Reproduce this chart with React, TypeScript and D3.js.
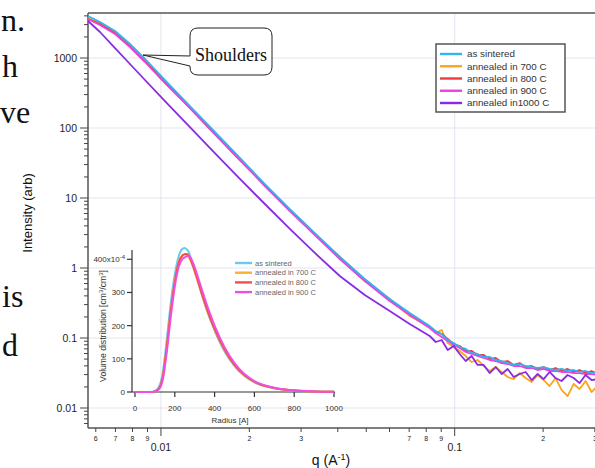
import * as d3 from "d3";

// main SAXS curves: q grid (A^-1), low-q part then the noisy high-q part
const qLow = [0.005645, 0.006202, 0.006977, 0.007843, 0.008824, 0.01032, 0.01255, 0.01526, 0.01857, 0.02258, 0.02747, 0.03341, 0.04063, 0.04942, 0.0601, 0.0703, 0.08222];
const qHigh = [0.08617, 0.09032, 0.09467, 0.09922, 0.104, 0.109, 0.1142, 0.1197, 0.1255, 0.1315, 0.1379, 0.1445, 0.1515, 0.1588, 0.1664, 0.1744, 0.1828, 0.1916, 0.2008, 0.2104, 0.2205, 0.2311, 0.2423, 0.254, 0.2662, 0.279, 0.2924, 0.3064];

const sinteredLow = [3981, 3268, 2431, 1585, 968, 485, 206, 87.7, 37.3, 15.85, 6.96, 3.16, 1.44, 0.697, 0.361, 0.228, 0.148];
const sinteredHigh = [0.1259, 0.114, 0.0936, 0.0848, 0.0744, 0.0697, 0.0611, 0.0591, 0.0535, 0.0535, 0.0485, 0.0469, 0.0439, 0.0412, 0.0425, 0.0398, 0.0385, 0.0373, 0.0385, 0.0361, 0.0349, 0.0361, 0.0338, 0.0349, 0.0327, 0.0338, 0.0316, 0.0327];

const a700Low = [3728, 3162, 2352, 1534, 936, 469, 199.5, 84.8, 36.1, 15.34, 6.74, 3.06, 1.39, 0.652, 0.361, 0.206, 0.144];
const a700High = [0.1179, 0.1301, 0.0848, 0.0744, 0.0652, 0.0553, 0.0454, 0.0485, 0.0398, 0.0338, 0.0385, 0.0327, 0.0277, 0.0259, 0.0316, 0.0268, 0.0235, 0.0296, 0.0251, 0.0206, 0.0268, 0.0181, 0.0148, 0.022, 0.0187, 0.0243, 0.0169, 0.0206];

const a800Low = [3607, 3059, 2276, 1484, 906, 454, 193.1, 82.1, 34.9, 15.34, 6.74, 3.06, 1.44, 0.674, 0.349, 0.22, 0.144];
const a800High = [0.1218, 0.114, 0.0967, 0.0821, 0.0769, 0.0652, 0.0652, 0.0572, 0.0572, 0.0501, 0.0518, 0.0454, 0.0469, 0.0412, 0.0439, 0.0385, 0.0398, 0.0361, 0.0385, 0.0349, 0.0373, 0.0338, 0.0361, 0.0327, 0.0349, 0.0316, 0.0338, 0.0306];

const a900Low = [3607, 2960, 2203, 1436, 877, 439, 193.1, 82.1, 34.9, 14.84, 6.52, 2.96, 1.345, 0.652, 0.338, 0.213, 0.139];
const a900High = [0.1179, 0.1033, 0.0906, 0.0794, 0.072, 0.0631, 0.0591, 0.0553, 0.0518, 0.0485, 0.0469, 0.0439, 0.0425, 0.0398, 0.0398, 0.0373, 0.0373, 0.0349, 0.0361, 0.0338, 0.0338, 0.0327, 0.0327, 0.0316, 0.0316, 0.0306, 0.0306, 0.0296];

const a1000Low = [3377, 2352, 1389, 821, 485, 243, 103.3, 43.9, 18.7, 8.21, 3.61, 1.64, 0.769, 0.411, 0.243, 0.1585, 0.1068];
const a1000High = [0.0877, 0.0936, 0.0674, 0.0769, 0.0591, 0.0469, 0.0553, 0.0412, 0.0412, 0.0316, 0.0385, 0.0306, 0.0361, 0.0277, 0.0306, 0.0327, 0.0251, 0.0306, 0.0259, 0.0327, 0.0268, 0.0243, 0.0296, 0.0268, 0.0227, 0.0296, 0.0251, 0.0259];

// inset: volume distribution vs radius (x10^-4)
const radius = [0, 50, 80, 100, 120, 140, 160, 180, 200, 220, 240, 250, 260, 270, 280, 300, 330, 360, 400, 450, 500, 550, 600, 700, 800, 900, 1000];
const distSintered = [0, 0, 0, 3, 15, 60, 160, 270, 355, 410, 432, 434, 430, 422, 405, 368, 305, 248, 185, 122, 78, 48, 29, 11, 4, 1.5, 0.6];
const dist700 = [0, 0, 0, 2, 11, 48, 140, 248, 335, 392, 413, 415, 414, 408, 395, 362, 305, 250, 188, 126, 81, 50, 30, 12, 4.5, 1.6, 0.6];
const dist800 = [0, 0, 0, 2, 10, 46, 137, 245, 332, 390, 412, 415, 416, 411, 398, 366, 308, 253, 190, 128, 82, 51, 31, 12, 4.5, 1.6, 0.6];
const dist900 = [0, 0, 0, 2, 8, 38, 122, 228, 318, 378, 402, 406, 409, 410, 404, 376, 320, 265, 200, 135, 87, 54, 33, 13, 5, 1.8, 0.7];

const mainLabels = ["as sintered", "annealed in 700 C", "annealed in 800 C", "annealed in 900 C", "annealed in1000 C"];
const insetLabels = ["as sintered", "annealed in 700 C", "annealed in 800 C", "annealed in 900 C"];
const colors = ["#2fb4f0", "#f9a61c", "#ef3b3b", "#ee3fe0", "#8a2be2"];
const insetColors = ["#6cc8ee", "#f9b02e", "#f05050", "#ef4fe0"];

const sans = "Liberation Sans, Arial, Helvetica, sans-serif";
const serif = "Liberation Serif, Times New Roman, serif";

const W = 595;
const H = 468;

const x = d3.scaleLog().domain([0.005645, 0.33]).range([88, 607]);
const y = d3.scaleLog().domain([0.00518, 4395]).range([428, 13]);
const rx = d3.scaleLinear().domain([0, 1000]).range([135, 334]);
const ry = d3.scaleLinear().domain([0, 428]).range([392, 250]);

const qAll = [...qLow, ...qHigh];
const series = [
  [...sinteredLow, ...sinteredHigh],
  [...a700Low, ...a700High],
  [...a800Low, ...a800High],
  [...a900Low, ...a900High],
  [...a1000Low, ...a1000High],
];
const dists = [distSintered, dist700, dist800, dist900];

const mainLine = d3.line<number>().x((_, i) => x(qAll[i])).y((d) => y(d));
const insetLine = d3.line<number>().x((_, i) => rx(radius[i])).y((d) => ry(d)).curve(d3.curveMonotoneX);

// ticks for the log axes
const yTicks: { v: number; major: boolean }[] = [];
for (let e = -3; e <= 3; e++) {
  for (let m = 1; m <= 9; m++) {
    const v = m * Math.pow(10, e);
    if (v >= 0.00518 && v <= 4395) yTicks.push({ v, major: m === 1 });
  }
}
const xTicks: { v: number; m: number; e: number }[] = [];
for (let e = -3; e <= -1; e++) {
  for (let m = 1; m <= 9; m++) {
    const v = m * Math.pow(10, e);
    if (v >= 0.005645 && v <= 0.33) xTicks.push({ v, m, e });
  }
}
const yLabel = (v: number) => (v >= 1 ? String(Math.round(v)) : v.toFixed(Math.round(-Math.log10(v))));

const drawOrder = [1, 2, 3, 4, 0];

export default function App() {
  const gx = [0.01, 0.1];
  const gy = [0.01, 0.1, 1, 10, 100, 1000];
  return (
    <svg width={W} height={H} style={{ position: "absolute", left: 0, top: 0, background: "#fff" }}>
      <defs>
        <clipPath id="plot">
          <rect x={88} y={13} width={520} height={415} />
        </clipPath>
      </defs>

      {/* body text of the page, cut at the left edge */}
      <g fontFamily={serif} fontSize={32} fill="#111">
        <text x={1} y={31}>n.</text>
        <text x={2} y={77}>h</text>
        <text x={0} y={123}>ve</text>
        <text x={2} y={307}>is</text>
        <text x={2} y={356}>d</text>
      </g>

      {/* grid */}
      <g stroke="#e3e3ef" strokeWidth={1}>
        {gx.map((v) => (
          <line key={v} x1={x(v)} x2={x(v)} y1={13} y2={428} />
        ))}
        {gy.map((v) => (
          <line key={v} x1={88} x2={W} y1={y(v)} y2={y(v)} />
        ))}
      </g>

      {/* frame and axes */}
      <g stroke="#555" strokeWidth={1.5} fill="none">
        <line x1={88} x2={W} y1={13} y2={13} />
        <line x1={88} x2={88} y1={13} y2={428} />
        <line x1={88} x2={W} y1={428} y2={428} />
      </g>
      <g stroke="#444" strokeWidth={1}>
        {yTicks.map((t) => (
          <line key={t.v} x1={t.major ? 80 : 84} x2={88} y1={y(t.v)} y2={y(t.v)} />
        ))}
        {xTicks.map((t) => (
          <line key={t.v} x1={x(t.v)} x2={x(t.v)} y1={428} y2={t.m === 1 ? 436 : 432} />
        ))}
      </g>
      <g fontFamily={sans} fontSize={10.5} fill="#222" textAnchor="end">
        {yTicks
          .filter((t) => t.major)
          .map((t) => (
            <text key={t.v} x={77} y={y(t.v) + 3.8}>
              {yLabel(t.v)}
            </text>
          ))}
      </g>
      <g fontFamily={sans} fill="#222" textAnchor="middle">
        {xTicks.map((t) => {
          if (t.m === 1)
            return (
              <text key={t.v} x={x(t.v)} y={451} fontSize={10.5}>
                {t.e === -2 ? "0.01" : "0.1"}
              </text>
            );
          if (t.e === -2 && t.m >= 4 && t.m <= 6) return null;
          return (
            <text key={t.v} x={x(t.v)} y={441} fontSize={7}>
              {t.m}
            </text>
          );
        })}
      </g>
      <text x={331} y={465} fontFamily={sans} fontSize={14} fill="#111" textAnchor="middle">
        q (A<tspan dy={-5} fontSize={9}>-1</tspan>
        <tspan dy={5}>)</tspan>
      </text>
      <text
        transform="translate(32,213) rotate(-90)"
        fontFamily={sans}
        fontSize={13}
        fill="#111"
        textAnchor="middle"
      >
        Intensity (arb)
      </text>

      {/* scattering curves */}
      <g clipPath="url(#plot)" fill="none" strokeWidth={1.8} strokeLinejoin="round">
        {drawOrder.map((i) => (
          <path key={i} d={mainLine(series[i]) ?? ""} stroke={colors[i]} />
        ))}
      </g>

      {/* inset */}
      <g>
        <g stroke="#333" strokeWidth={1.2}>
          <line x1={132} x2={132} y1={250} y2={392} />
          <line x1={132} x2={335} y1={392} y2={392} />
          {[0, 100, 200, 300, 400].map((v) => (
            <line key={v} x1={127} x2={132} y1={ry(v)} y2={ry(v)} />
          ))}
          {[0, 200, 400, 600, 800, 1000].map((v) => (
            <line key={v} x1={rx(v)} x2={rx(v)} y1={392} y2={397} />
          ))}
        </g>
        <g fontFamily={sans} fontSize={8} fill="#333" textAnchor="end">
          {[0, 100, 200, 300].map((v) => (
            <text key={v} x={125} y={ry(v) + 3}>
              {v}
            </text>
          ))}
          <text x={125} y={ry(400) + 3}>
            400x10<tspan dy={-3} fontSize={6}>-4</tspan>
          </text>
        </g>
        <g fontFamily={sans} fontSize={8} fill="#333" textAnchor="middle">
          {[0, 200, 400, 600, 800, 1000].map((v) => (
            <text key={v} x={rx(v)} y={411}>
              {v}
            </text>
          ))}
          <text x={230} y={423} fontSize={8}>
            Radius [A]
          </text>
          <text transform="translate(106,326) rotate(-90)" fontSize={8.6}>
            Volume distribution [cm<tspan dy={-3} fontSize={6}>3</tspan>
            <tspan dy={3}>/cm</tspan>
            <tspan dy={-3} fontSize={6}>3</tspan>
            <tspan dy={3}>]</tspan>
          </text>
        </g>
        <g fill="none" strokeWidth={2}>
          {dists.map((d, i) => (
            <path key={i} d={insetLine(d) ?? ""} stroke={insetColors[i]} />
          ))}
        </g>
        <g fontFamily={sans} fontSize={7.5} fill="#666">
          {insetLabels.map((l, i) => (
            <g key={l} transform={`translate(0,${263 + i * 9.7})`}>
              <line x1={235} x2={252} y1={0} y2={0} stroke={insetColors[i]} strokeWidth={2.4} />
              <text x={255} y={2.7}>
                {l}
              </text>
            </g>
          ))}
        </g>
      </g>

      {/* legend */}
      <g>
        <rect x={436} y={44} width={129} height={68} fill="#fff" stroke="#555" strokeWidth={1.5} />
        <g fontFamily={sans} fontSize={9.8} fill="#333">
          {mainLabels.map((l, i) => (
            <g key={l} transform={`translate(0,${54 + i * 12.25})`}>
              <line x1={440} x2={462} y1={0} y2={0} stroke={colors[i]} strokeWidth={2.4} />
              <text x={467} y={3.4}>
                {l}
              </text>
            </g>
          ))}
        </g>
      </g>

      {/* callout */}
      <path
        d="M198,28 H264 Q272,28 272,36 V67 Q272,75 264,75 H198 Q190,75 190,67 V66 L143,55 L190,56 V36 Q190,28 198,28 Z"
        fill="#fff"
        stroke="#222"
        strokeWidth={1}
      />
      <text x={231} y={61} fontFamily={serif} fontSize={18} fill="#111" textAnchor="middle">
        Shoulders
      </text>
    </svg>
  );
}
